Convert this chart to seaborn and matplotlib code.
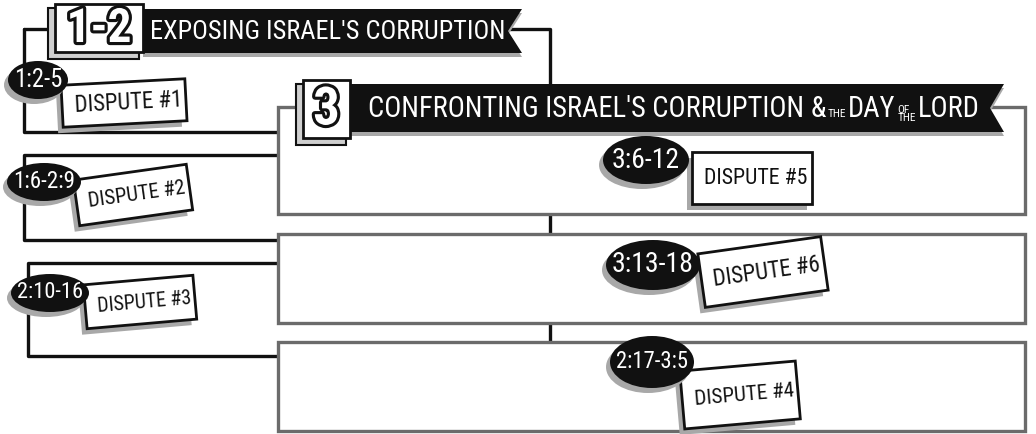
import numpy as np
import seaborn as sns
import matplotlib.pyplot as plt
import matplotlib.patheffects as pe
from matplotlib.patches import Polygon, Ellipse, Rectangle


# -----------------------------
# DATA
# -----------------------------
section_numbers = ["1-2", "3"]
section_titles = ["EXPOSING ISRAEL'S CORRUPTION", "CONFRONTING ISRAEL'S CORRUPTION"]
title_tail = ["&", "THE", "DAY", "OF\nTHE", "LORD"]
tail_small = [False, True, False, True, False]

dispute_labels = ["DISPUTE #1", "DISPUTE #2", "DISPUTE #3",
                  "DISPUTE #5", "DISPUTE #6", "DISPUTE #4"]
dispute_refs = ["1:2-5", "1:6-2:9", "2:10-16", "3:6-12", "3:13-18", "2:17-3:5"]


# -----------------------------
# LAYOUT (pixel space, y down)
# -----------------------------
W, H = 1036, 434
INK = "#111111"
GREY = "#6b6b6b"
SHADOW = "#a8a8a8"

# badge centre, badge size, label centre, label size, tilt
layout = [
    ((38, 80), (60, 38), (124, 103), (124, 42), 3),
    ((44, 182), (74, 38), (133, 195), (114, 46), 8),
    ((50, 293), (78, 38), (140, 302), (110, 44), 5),
    ((646, 160), (86, 48), (752, 178), (120, 52), 0),
    ((653, 265), (94, 50), (763, 272), (124, 54), 8),
    ((652, 362), (84, 52), (740, 395), (116, 58), 5),
]

sns.set_theme(style="white")
plt.rcParams["font.family"] = ["Roboto Condensed", "Liberation Sans Narrow", "DejaVu Sans"]
plt.rcParams["font.stretch"] = "condensed"

fig = plt.figure(figsize=(W / 100, H / 100), dpi=100)
ax = fig.add_axes([0, 0, 1, 1])
ax.set_xlim(0, W)
ax.set_ylim(H, 0)
ax.axis("off")
rend = fig.canvas.get_renderer()
inv = ax.transData.inverted()


def fit(t, maxw):
    # shrink a text until it fits the given pixel width
    w = t.get_window_extent(rend).width
    if w > maxw:
        t.set_fontsize(t.get_fontsize() * maxw / w)
    return t


def right_edge(t):
    return inv.transform(t.get_window_extent(rend).get_points())[1, 0]


def tilted(cx, cy, w, h, ang):
    a = np.deg2rad(ang)
    c, s = np.cos(a), np.sin(a)
    pts = np.array([[-w / 2, -h / 2], [w / 2, -h / 2], [w / 2, h / 2], [-w / 2, h / 2]])
    x = pts[:, 0] * c + pts[:, 1] * s
    y = -pts[:, 0] * s + pts[:, 1] * c
    return np.column_stack([cx + x, cy + y])


def header(bx0, bx1, by0, by1, x1, y0, y1, number, size):
    # 3d number block
    ax.add_patch(Polygon([(bx0 - 7, by0 + 4), (bx1 - 4, by0 + 4), (bx1 - 4, by1 + 7),
                          (bx0 - 7, by1 + 7)], closed=True, fc="#cfcfcf", ec=INK, lw=1.5, zorder=5))
    ax.add_patch(Rectangle((bx0, by0), bx1 - bx0, by1 - by0, fc="white", ec=INK, lw=2, zorder=6))
    t = ax.text((bx0 + bx1) / 2, (by0 + by1) / 2 + 1, number, ha="center", va="center",
                fontsize=size, fontweight="bold", color="white", zorder=7)
    t.set_path_effects([pe.Stroke(linewidth=4.5, foreground=INK), pe.Normal()])
    fit(t, bx1 - bx0 - 14)
    # banner with notched tail
    notch = 14
    ban = [(bx1, y0), (x1, y0), (x1 - notch, (y0 + y1) / 2), (x1, y1), (bx1, y1)]
    ax.add_patch(Polygon([(px, py + 4) for px, py in ban], closed=True, fc=SHADOW, ec="none", zorder=4))
    ax.add_patch(Polygon(ban, closed=True, fc=INK, ec="none", zorder=5))


def long_title(x0, y, size):
    arts = [ax.text(x0, y, section_titles[1], color="white", fontsize=size,
                    ha="left", va="center", zorder=8)]
    x_next = right_edge(arts[0]) + size * 0.3
    for piece, small in zip(title_tail, tail_small):
        tt = ax.text(x_next, y + 5 if small else y, piece, color="white",
                     fontsize=size * 0.4 if small else size, ha="left", va="center",
                     linespacing=0.85, zorder=8)
        arts.append(tt)
        x_next = right_edge(tt) + 2
    return arts, x_next


# -----------------------------
# CONNECTOR LINES
# -----------------------------
lw = 2.4
ax.plot([24, 24, 280], [29, 132, 132], color=INK, lw=lw, zorder=1)
ax.plot([24, 550, 550], [29, 29, 342], color=INK, lw=lw, zorder=1)
ax.plot([280, 24, 24, 280], [155, 155, 240, 240], color=INK, lw=lw, zorder=1)
ax.plot([280, 28, 28, 280], [263, 263, 356, 356], color=INK, lw=lw, zorder=1)

# grey section boxes
for y0, y1 in [(107, 214), (234, 323), (342, 431)]:
    ax.add_patch(Rectangle((278, y0), 1025 - 278, y1 - y0, fc="white", ec=GREY, lw=2.4, zorder=2))

# -----------------------------
# HEADERS
# -----------------------------
header(55, 143, 4, 52, 522, 9, 53, section_numbers[0], 34)
t = ax.text(150, 32, section_titles[0], color="white", fontsize=30, ha="left", va="center", zorder=8)
fit(t, 355)

header(303, 350, 80, 138, 1004, 84, 132, section_numbers[1], 38)
arts, xr = long_title(368, 109, 26)
scale = (982 - 368) / (xr - 368)
for a in arts:
    a.remove()
long_title(368, 109, 26 * scale)

# -----------------------------
# DISPUTE BADGES
# -----------------------------
for label, ref, (bc, bs, lc, ls, ang) in zip(dispute_labels, dispute_refs, layout):
    ax.add_patch(Polygon(tilted(lc[0] - 5, lc[1] + 6, ls[0], ls[1], ang), closed=True,
                         fc=SHADOW, ec="none", zorder=9))
    ax.add_patch(Polygon(tilted(lc[0], lc[1], ls[0], ls[1], ang), closed=True,
                         fc="white", ec=INK, lw=2, zorder=10))
    tl = ax.text(lc[0] + 4, lc[1], label, ha="center", va="center",
                 fontsize=24, color=INK, zorder=11)
    fit(tl, ls[0] - 16)
    tl.set_rotation(ang)
    ax.add_patch(Ellipse((bc[0] - 4, bc[1] + 5), bs[0], bs[1], fc=SHADOW, ec="none", zorder=12))
    ax.add_patch(Ellipse(bc, bs[0], bs[1], fc=INK, ec="none", zorder=13))
    tr = ax.text(bc[0], bc[1], ref, ha="center", va="center", fontsize=20,
                 color="white", zorder=14)
    fit(tr, bs[0] - 12)

fig.savefig("out.png", dpi=100)
